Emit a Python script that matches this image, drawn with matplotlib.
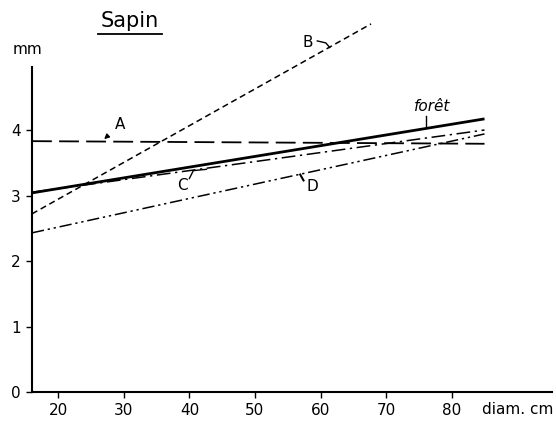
import matplotlib
matplotlib.use("Agg")
import matplotlib.pyplot as plt
from matplotlib.lines import Line2D

# data (straight lines: value at each end)
diam = [16, 85]
foret = [3.04, 4.17]
line_a = [3.83, 3.79]
diam_b = [16, 67.7]
line_b = [2.72, 5.62]
line_c = [3.05, 4.00]
line_d = [2.43, 3.94]

xticks = [20, 30, 40, 50, 60, 70, 80]
yticks = [0, 1, 2, 3, 4]

fig = plt.figure(figsize=(5.56, 4.28), dpi=100)
ax = fig.add_axes([32 / 556, 36 / 428, 524 / 556, 392 / 428])
ax.set_xlim(16, 95.9)
ax.set_ylim(0, 5.985)

ax.plot(diam, foret, color="black", lw=2.0, solid_capstyle="butt")
ax.plot(diam, line_a, color="black", lw=1.3, dashes=(11, 4))
ax.plot(diam_b, line_b, color="black", lw=1.1, dashes=(4, 2.5))
ax.plot(diam, line_c, color="black", lw=1.1, dashes=(9, 3, 1.5, 3))
ax.plot(diam, line_d, color="black", lw=1.1, dashes=(8, 2.5, 1.5, 2.5, 1.5, 2.5))

# labels with their little leader strokes
kw = dict(fontsize=11, color="black")
ax.annotate("A", xy=(27.0, 3.86), xytext=(29.4, 4.08), ha="center", va="center",
            arrowprops=dict(arrowstyle="-|>", color="black", lw=1, shrinkA=5,
                            shrinkB=0, mutation_scale=7), **kw)
ax.text(58.1, 5.34, "B", ha="center", va="center", **kw)
ax.plot([59.5, 60.8, 61.4], [5.36, 5.33, 5.26], color="black", lw=1)
ax.text(39.0, 3.16, "C", ha="center", va="center", **kw)
ax.plot([40.0, 40.6, 42.6], [3.26, 3.38, 3.40], color="black", lw=1)
ax.text(58.8, 3.13, "D", ha="center", va="center", **kw)
ax.plot([57.4, 56.9], [3.23, 3.32], color="black", lw=1.5)
ax.text(77.0, 4.36, "forêt", ha="center", va="center", style="italic", **kw)
ax.plot([76.1, 76.1], [4.22, 4.04], color="black", lw=1)

ax.spines["top"].set_visible(False)
ax.spines["right"].set_visible(False)
ax.spines["left"].set_bounds(0, 4.96)
ax.spines["bottom"].set_bounds(16, 95.3)
ax.spines["left"].set_linewidth(1.5)
ax.spines["bottom"].set_linewidth(1.5)

ax.set_xticks(xticks)
ax.set_yticks(yticks)
ax.tick_params(direction="out", length=4, width=1, labelsize=11, pad=4)

fig.text(518 / 556, 1 - 410 / 428, "diam. cm", ha="center", va="center", fontsize=11)
fig.text(28 / 556, 1 - 50 / 428, "mm", ha="center", va="center", fontsize=11)
fig.text(130 / 556, 1 - 21 / 428, "Sapin", ha="center", va="center", fontsize=15)
fig.add_artist(Line2D([98 / 556, 162 / 556], [1 - 34 / 428, 1 - 34 / 428],
                      color="black", lw=1.3))

fig.savefig("out.png", dpi=100, facecolor="white")
